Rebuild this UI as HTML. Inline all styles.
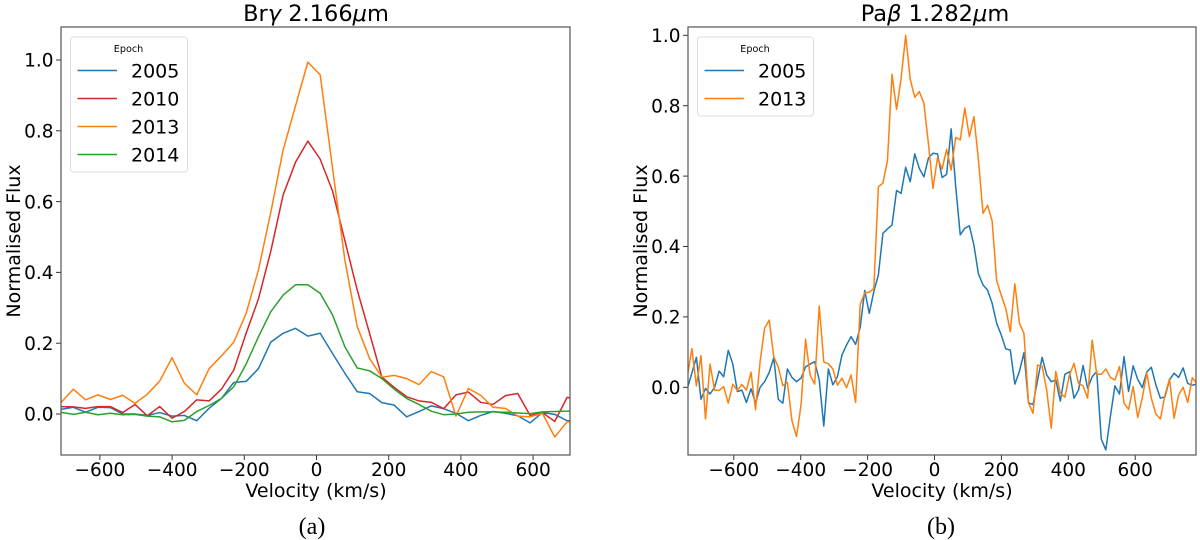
<!DOCTYPE html>
<html>
<head>
<meta charset="utf-8">
<title>Normalised flux line profiles</title>
<style>
html,body{margin:0;padding:0;background:#fff;width:1200px;height:540px;overflow:hidden}
svg{display:block}
text{font-family:"DejaVu Sans","Liberation Sans",sans-serif;fill:#000}
.tick{font-size:18.5px}
.axis{font-size:19px}
.title{font-size:22.5px}
.leg{font-size:19px}
.legt{font-size:9.6px}
.cap{font-family:"Liberation Serif",serif;font-size:24px}
.mi{font-style:italic}
</style>
</head>
<body>
<svg id="fig" width="1200" height="540" viewBox="0 0 1200 540" xmlns="http://www.w3.org/2000/svg">
<defs>
<clipPath id="clipBr"><rect x="61" y="27" width="509" height="428"/></clipPath>
<clipPath id="clipPa"><rect x="688" y="27" width="508" height="428"/></clipPath>
</defs>
<g id="panelBr">
<text class="title" x="316" y="21" text-anchor="middle">Br<tspan class="mi">γ</tspan> 2.166<tspan class="mi">μ</tspan>m</text>
<text class="axis" x="316" y="497" text-anchor="middle">Velocity (km/s)</text>
<text class="axis" transform="translate(20,241) rotate(-90)" text-anchor="middle">Normalised Flux</text>
<text class="cap" x="312" y="534" text-anchor="middle">(a)</text>
</g>
<g id="panelPa">
<text class="title" x="935" y="21" text-anchor="middle">Pa<tspan class="mi">β</tspan> 1.282<tspan class="mi">μ</tspan>m</text>
<text class="axis" x="942" y="497" text-anchor="middle">Velocity (km/s)</text>
<text class="axis" transform="translate(647,241) rotate(-90)" text-anchor="middle">Normalised Flux</text>
<text class="cap" x="941" y="534" text-anchor="middle">(b)</text>
</g>
</svg>
<script>
const brVelocity=[-708,-673.8,-639.6,-605.4,-571.2,-537,-502.8,-468.6,-434.4,-400.2,-366,-331.8,-297.6,-263.4,-229.2,-195,-160.8,-126.6,-92.4,-58.2,-24,10.2,44.4,78.6,112.8,147,181.2,215.4,249.6,283.8,318,352.2,386.4,420.6,454.8,489,523.2,557.4,591.6,625.8,660,694.2,728.4];
const br2005=[.013,.019,.005,.019,.018,0,0,-.004,.004,-.006,-.004,-.019,.016,.044,.089,.092,.128,.203,.228,.242,.22,.228,.171,.115,.063,.058,.032,.025,-.008,.007,.023,.015,.002,-.019,-.004,.007,.002,-.005,-.025,.004,-.001,-.019,-.02];
const br2010=[.021,.02,.016,.021,.021,.004,.027,-.005,.021,-.012,.007,.04,.037,.07,.124,.228,.325,.46,.619,.711,.771,.72,.63,.49,.35,.228,.104,.075,.049,.037,.033,.015,.054,.062,.033,.027,.052,.058,-.004,.004,-.021,.047,.04];
const br2013=[.032,.07,.04,.054,.041,.053,.03,.056,.093,.159,.087,.054,.128,.164,.203,.284,.407,.57,.746,.87,.994,.958,.695,.435,.247,.157,.104,.109,.1,.083,.12,.105,-.006,.072,.053,.019,.016,-.006,-.008,.002,-.065,-.022,-.024];
const br2014=[.005,-.001,.005,-.002,.002,-.002,-.001,-.006,-.008,-.022,-.018,.007,.024,.044,.077,.141,.218,.289,.336,.365,.365,.341,.28,.19,.13,.122,.1,.07,.044,.027,.008,-.002,0,.005,.006,.006,.005,.003,.001,.006,.007,.008,.01];
const paVelocity=[-739,-725.4,-711.8,-698.2,-684.6,-671,-657.4,-643.8,-630.2,-616.6,-603,-589.4,-575.8,-562.2,-548.6,-535,-521.4,-507.8,-494.2,-480.6,-467,-453.4,-439.8,-426.2,-412.6,-399,-385.4,-371.8,-358.2,-344.6,-331,-317.4,-303.8,-290.2,-276.6,-263,-249.4,-235.8,-222.2,-208.6,-195,-181.4,-167.8,-154.2,-140.6,-127,-113.4,-99.8,-86.2,-72.6,-59,-45.4,-31.8,-18.2,-4.6,9,22.6,36.2,49.8,63.4,77,90.6,104.2,117.8,131.4,145,158.6,172.2,185.8,199.4,213,226.6,240.2,253.8,267.4,281,294.6,308.2,321.8,335.4,349,362.6,376.2,389.8,403.4,417,430.6,444.2,457.8,471.4,485,498.6,512.2,525.8,539.4,553,566.6,580.2,593.8,607.4,621,634.6,648.2,661.8,675.4,689,702.6,716.2,729.8,743.4,757,770.6,784.2];
const pa2005=[-.003,.04,.085,-.034,-.003,-.019,0,.046,.03,.105,.066,-.012,-.008,-.043,-.004,-.045,0,.016,.042,.084,-.034,-.045,.052,.028,.016,.026,.058,.066,.073,.021,-.11,.052,.007,.03,.092,.12,.144,.122,.17,.275,.21,.272,.319,.4375,.45,.461,.559,.551,.625,.584,.663,.622,.598,.651,.665,.663,.596,.605,.734,.57,.433,.452,.459,.404,.322,.291,.276,.239,.182,.149,.109,.106,.009,.045,.098,-.044,-.049,.021,.085,.035,.016,.021,-.039,.037,.044,-.031,-.008,.062,-.003,.03,.045,-.147,-.178,-.083,.004,-.019,.087,-.012,.061,.023,-.001,.043,.057,.007,-.031,-.027,.021,.04,.028,.055,.011,.006,.009];
const pa2013=[.03,.11,.004,.09,-.09,.066,-.008,-.009,.002,-.045,.009,-.009,.008,-.008,.043,-.064,.073,.168,.191,.087,.057,.005,.014,-.095,-.14,-.05,.136,.034,.009,.231,.072,.067,.052,.006,.026,-.001,.035,-.043,.235,.269,.27,.281,.57,.58,.644,.889,.79,.878,1,.875,.824,.84,.807,.693,.565,.652,.62,.676,.617,.71,.703,.793,.712,.769,.646,.494,.517,.473,.303,.262,.224,.158,.294,.182,.153,-.044,-.074,.063,.06,-.008,-.116,.045,-.017,-.028,.035,.068,.011,.004,-.031,.134,.037,.037,.052,.028,.021,.059,-.045,-.063,.002,-.086,-.031,.04,-.031,-.076,-.09,-.022,.024,-.088,-.022,0,-.043,.027,.011];
const brXTicks=[-600,-400,-200,0,200,400,600];
const paXTicks=[-600,-400,-200,0,200,400,600];
const brYTicks=[0,0.2,0.4,0.6,0.8,1.0];
const paYTicks=[0,0.2,0.4,0.6,0.8,1.0];
const brEpochs=["2005","2010","2013","2014"];
const paEpochs=["2005","2013"];

const NS="http://www.w3.org/2000/svg";
const COLORS={"2005":"#1f77b4","2010":"#d62728","2013":"#ff7f0e","2014":"#2ca02c"};
function xBr(v){return 316.5+v*0.361;}
function yBr(f){return 414-f*354;}
function xPa(v){return 934.5+v*0.3345;}
function yPa(f){return 387.3-f*352;}
function make(tag,parent,attrs){
  const el=document.createElementNS(NS,tag);
  for(const k in attrs){el.setAttribute(k,attrs[k]);}
  parent.appendChild(el);
  return el;
}
function fmt(v,dec){return (v<0?"\u2212":"")+Math.abs(v).toFixed(dec);}

function drawSeries(parent,xs,ys,xf,yf,clip,label){
  const pts=xs.map((v,i)=>xf(v).toFixed(2)+","+yf(ys[i]).toFixed(2)).join(" ");
  const el=make("polyline",parent,{points:pts,fill:"none",stroke:COLORS[label],"stroke-width":"1.5","stroke-linejoin":"round","clip-path":"url(#"+clip+")"});
  
  
}
function drawAxes(parent,box,xTicks,yTicks,xf,yf){
  xTicks.forEach(t=>{
    const x=xf(t);
    const m=make("line",parent,{x1:x,x2:x,y1:box.b,y2:box.b+5,stroke:"#333","stroke-width":"1"});
    
    
    const l=make("text",parent,{x:x,y:476,"text-anchor":"middle","class":"tick"});
    l.textContent=fmt(t,0);
    
    
  });
  yTicks.forEach(t=>{
    const y=yf(t);
    const m=make("line",parent,{x1:box.l-5,x2:box.l,y1:y,y2:y,stroke:"#333","stroke-width":"1"});
    
    
    const l=make("text",parent,{x:box.l-7.5,y:y+6.7,"text-anchor":"end","class":"tick"});
    l.textContent=fmt(t,1);
    
    
  });
  const s=make("rect",parent,{x:box.l,y:box.t,width:box.r-box.l,height:box.b-box.t,fill:"none",stroke:"#555","stroke-width":"1.2"});
  
  
}
function drawLegend(parent,x,w,labels){
  const g=make("g",parent,{});
  
  
  const h=23+labels.length*28;
  const r=make("rect",g,{x:x,y:37,width:w,height:h,rx:3,ry:3,fill:"#fff",stroke:"#ddd","stroke-width":"1"});
  
  
  const tt=make("text",g,{x:x+w/2-0.5,y:52,"text-anchor":"middle","class":"legt"});
  tt.textContent="Epoch";
  
  
  labels.forEach((lab,i)=>{
    const y=70.5+i*28;
    const ln=make("line",g,{x1:x+7,x2:x+46.5,y1:y,y2:y,stroke:COLORS[lab],"stroke-width":"1.5"});
    
    
    const t=make("text",g,{x:x+60.5,y:y+7,"class":"leg"});
    t.textContent=lab;
    
    
  });
}

const panelBr=document.getElementById("panelBr");
const panelPa=document.getElementById("panelPa");
drawSeries(panelBr,brVelocity,br2005,xBr,yBr,"clipBr","2005");
drawSeries(panelBr,brVelocity,br2010,xBr,yBr,"clipBr","2010");
drawSeries(panelBr,brVelocity,br2013,xBr,yBr,"clipBr","2013");
drawSeries(panelBr,brVelocity,br2014,xBr,yBr,"clipBr","2014");
drawAxes(panelBr,{l:61,r:570,t:27,b:455},brXTicks,brYTicks,xBr,yBr);
drawLegend(panelBr,70.5,117,brEpochs);
drawSeries(panelPa,paVelocity,pa2005,xPa,yPa,"clipPa","2005");
drawSeries(panelPa,paVelocity,pa2013,xPa,yPa,"clipPa","2013");
drawAxes(panelPa,{l:688,r:1196,t:27,b:455},paXTicks,paYTicks,xPa,yPa);
drawLegend(panelPa,697.5,116,paEpochs);
</script>
</body>
</html>
